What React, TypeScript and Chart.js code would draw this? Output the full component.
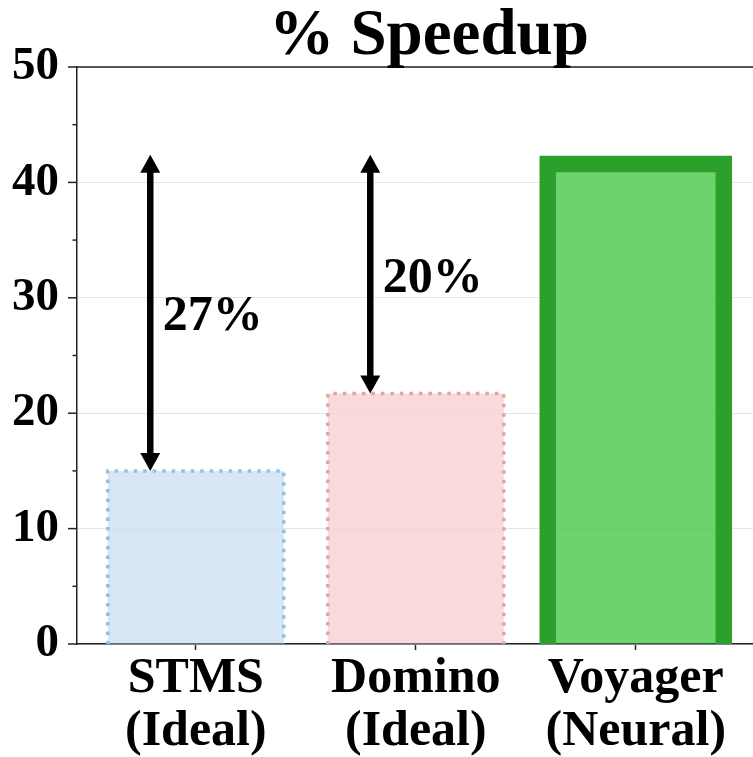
import React, { useEffect, useRef } from "react";
import { Chart, registerables } from "chart.js";

Chart.register(...registerables);

// ---------- data ----------
const CATEGORIES: string[][] = [
  ["STMS", "(Ideal)"],
  ["Domino", "(Ideal)"],
  ["Voyager", "(Neural)"],
];
const SPEEDUP: number[] = [15.0, 21.7, 41.6];
const Y_MIN = 0;
const Y_MAX = 50;
const Y_STEP = 5;
const TITLE = "% Speedup";

// gap annotations (arrow from bar top up to Voyager level)
const ARROW_TOP = 42.4;
const GAP_LABELS: string[] = ["27%", "20%"];
const GAP_LABEL_Y: number[] = [27.2, 30.5];

// ---------- styles ----------
const FONT = "'Liberation Serif', 'Times New Roman', Times, serif";
const FILLS = ["rgba(204,224,243,0.8)", "rgba(246,209,212,0.8)", "rgba(72,200,72,0.8)"];
const EDGE_COLORS = ["#93bfe2", "#e2a5a5", "#2ca02c"];
const EDGE_WIDTHS = [3.5, 3.5, 16.5];
const EDGE_DASH: number[][] = [[3.5, 6], [3.5, 6], []];
const ARROW_DX = -0.207;
const LABEL_DX = -0.15;

const barEdgePlugin = {
  id: "barEdges",
  afterDatasetsDraw(chart: any) {
    const ctx = chart.ctx;
    const area = chart.chartArea;
    const meta = chart.getDatasetMeta(0);
    ctx.save();
    ctx.beginPath();
    ctx.rect(area.left, area.top, area.right - area.left, area.bottom - area.top);
    ctx.clip();
    meta.data.forEach((el: any, i: number) => {
      const { x, y, base, width } = el.getProps(["x", "y", "base", "width"], true);
      const l = x - width / 2;
      const r = x + width / 2;
      ctx.beginPath();
      ctx.setLineDash(EDGE_DASH[i]);
      ctx.lineWidth = EDGE_WIDTHS[i];
      ctx.strokeStyle = EDGE_COLORS[i];
      ctx.lineJoin = "miter";
      ctx.lineCap = "butt";
      ctx.moveTo(l, base + 20);
      ctx.lineTo(l, y);
      ctx.lineTo(r, y);
      ctx.lineTo(r, base + 20);
      ctx.stroke();
    });
    ctx.restore();
  },
};

const annotationPlugin = {
  id: "annot",
  afterDraw(chart: any) {
    const ctx = chart.ctx;
    const area = chart.chartArea;
    const xs = chart.scales.x;
    const ys = chart.scales.y;
    ctx.save();
    // top spine
    ctx.strokeStyle = "#222";
    ctx.lineWidth = 1.5;
    ctx.beginPath();
    ctx.moveTo(area.left, area.top);
    ctx.lineTo(area.right, area.top);
    ctx.stroke();
    // y ticks (major / minor)
    for (let v = Y_MIN; v <= Y_MAX; v += Y_STEP) {
      const py = ys.getPixelForValue(v);
      const len = v % 10 === 0 ? 9 : 4.5;
      ctx.beginPath();
      ctx.moveTo(area.left - len, py);
      ctx.lineTo(area.left, py);
      ctx.stroke();
    }
    // arrows
    const head = 18;
    const halfW = 10;
    GAP_LABELS.forEach((txt, i) => {
      const px = xs.getPixelForValue(i + ARROW_DX);
      const yTop = ys.getPixelForValue(ARROW_TOP);
      const yBot = ys.getPixelForValue(SPEEDUP[i]);
      ctx.fillStyle = "#000";
      ctx.strokeStyle = "#000";
      ctx.lineWidth = 6.5;
      ctx.beginPath();
      ctx.moveTo(px, yTop + head - 1);
      ctx.lineTo(px, yBot - head + 1);
      ctx.stroke();
      ctx.beginPath();
      ctx.moveTo(px, yTop);
      ctx.lineTo(px - halfW, yTop + head);
      ctx.lineTo(px + halfW, yTop + head);
      ctx.closePath();
      ctx.fill();
      ctx.beginPath();
      ctx.moveTo(px, yBot);
      ctx.lineTo(px - halfW, yBot - head);
      ctx.lineTo(px + halfW, yBot - head);
      ctx.closePath();
      ctx.fill();
      ctx.font = `bold 50px ${FONT}`;
      ctx.textAlign = "left";
      ctx.textBaseline = "alphabetic";
      ctx.fillText(txt, xs.getPixelForValue(i + LABEL_DX), ys.getPixelForValue(GAP_LABEL_Y[i]));
    });
    // title
    ctx.font = `bold 65px ${FONT}`;
    ctx.textAlign = "center";
    ctx.textBaseline = "alphabetic";
    ctx.fillStyle = "#000";
    ctx.fillText(TITLE, (area.left + area.right) / 2, 54);
    ctx.restore();
  },
};

export default function App() {
  const ref = useRef<HTMLCanvasElement | null>(null);
  useEffect(() => {
    if (!ref.current) return;
    const chart = new Chart(ref.current, {
      type: "bar",
      data: {
        datasets: [
          {
            data: SPEEDUP.map((y, i) => ({ x: i, y })),
            backgroundColor: FILLS,
            borderWidth: 0,
            barPercentage: 0.8,
            categoryPercentage: 1,
          } as any,
        ],
      },
      options: {
        animation: false,
        responsive: false,
        devicePixelRatio: 1,
        layout: { padding: { top: 67, right: 19, left: 0, bottom: 0 } },
        plugins: { legend: { display: false }, tooltip: { enabled: false }, title: { display: false } },
        scales: {
          x: {
            type: "linear",
            offset: false,
            min: -0.54,
            max: 2.66,
            afterBuildTicks: (scale: any) => {
              scale.ticks = CATEGORIES.map((_, i) => ({ value: i }));
            },
            afterFit: (scale: any) => {
              scale.height = 113;
            },
            grid: { display: true, offset: false, drawOnChartArea: false, drawTicks: true, tickLength: 6, tickColor: "#222", tickWidth: 1.5 },
            border: { display: true, color: "#222", width: 1.5 },
            ticks: {
              autoSkip: false,
              maxRotation: 0,
              padding: 2,
              color: "#000",
              font: { family: FONT, size: 50, weight: "bold", lineHeight: 1.07 },
              callback: (v: any) => CATEGORIES[Math.round(Number(v))] as any,
            },
          },
          y: {
            type: "linear",
            min: Y_MIN,
            max: Y_MAX,
            afterFit: (scale: any) => {
              scale.width = 77;
            },
            grid: { color: "#e4e4e4", lineWidth: 1, drawTicks: false },
            border: { display: true, color: "#222", width: 1.5 },
            ticks: {
              stepSize: Y_STEP,
              padding: 18,
              color: "#000",
              font: { family: FONT, size: 47, weight: "bold" },
              callback: (v: any) => (Number(v) % 10 === 0 ? String(v) : ""),
            },
          },
        },
      } as any,
      plugins: [barEdgePlugin, annotationPlugin],
    });
    return () => chart.destroy();
  }, []);
  return (
    <div style={{ position: "fixed", left: 0, top: 0, width: 753, height: 757, overflow: "hidden", background: "#fff" }}>
      <canvas ref={ref} width={800} height={757} style={{ width: 800, height: 757, display: "block" }} />
    </div>
  );
}
